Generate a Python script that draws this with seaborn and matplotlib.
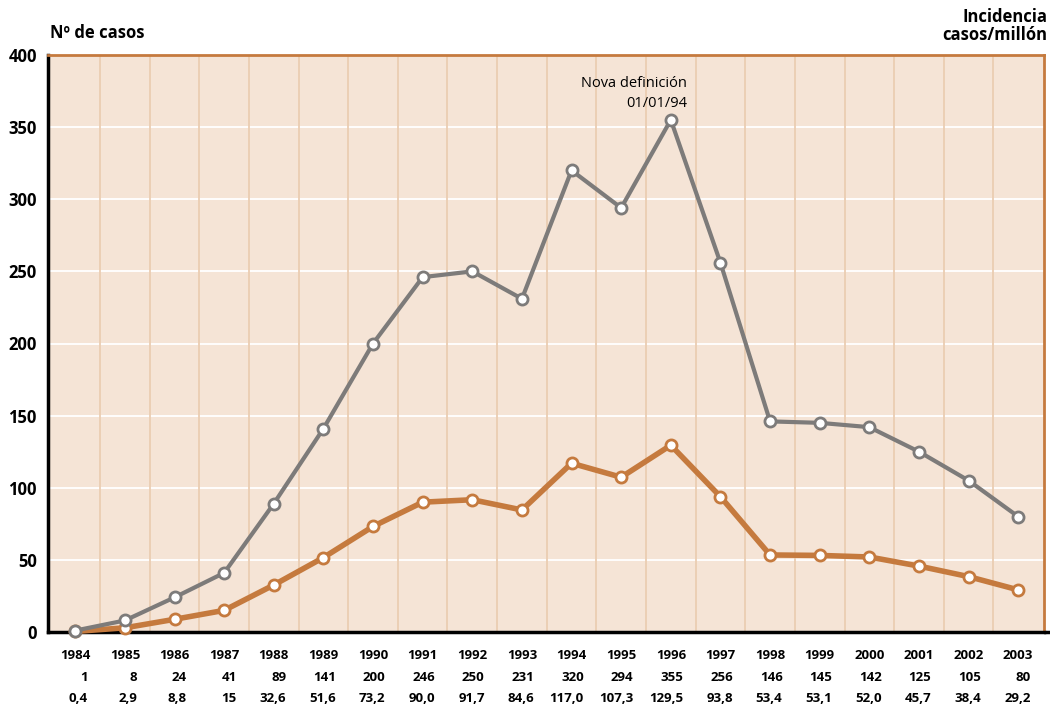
import pandas as pd
import matplotlib.pyplot as plt
import seaborn as sns

# Datos
anios = list(range(1984, 2004))
casos = [1, 8, 24, 41, 89, 141, 200, 246, 250, 231, 320, 294, 355, 256, 146, 145, 142, 125, 105, 80]
incidencia = [0.4, 2.9, 8.8, 15, 32.6, 51.6, 73.2, 90.0, 91.7, 84.6, 117.0, 107.3, 129.5, 93.8,
              53.4, 53.1, 52.0, 45.7, 38.4, 29.2]
incidencia_txt = ["0,4", "2,9", "8,8", "15", "32,6", "51,6", "73,2", "90,0", "91,7", "84,6",
                  "117,0", "107,3", "129,5", "93,8", "53,4", "53,1", "52,0", "45,7", "38,4", "29,2"]

df = pd.DataFrame({"anio": anios, "casos": casos, "incidencia": incidencia})

sns.set_style("white")
plt.rcParams["font.family"] = ["Open Sans", "DejaVu Sans"]
plt.rcParams["text.color"] = "black"
plt.rcParams["ytick.color"] = "black"

GRIS = "#7d7b7a"
NARANJA = "#c57a3e"
FONDO = "#f5e4d6"
REJILLA = "#ebcdb2"

fig = plt.figure(figsize=(10.5, 7.09), dpi=100)
ax = fig.add_axes([48 / 1050, 1 - 632 / 709, (1044 - 48) / 1050, (632 - 55) / 709])
ax.set_facecolor(FONDO)

# Rejilla
for y in range(50, 400, 50):
    ax.axhline(y, color="white", lw=1.3, zorder=1)
for x in range(1984, 2003):
    ax.axvline(x + 0.5, color=REJILLA, lw=1.3, zorder=1)

# Líneas
sns.lineplot(data=df, x="anio", y="casos", ax=ax, color=GRIS, lw=3, marker="o",
             markersize=8, markerfacecolor="white", markeredgecolor=GRIS,
             markeredgewidth=2, zorder=4, clip_on=False)
sns.lineplot(data=df, x="anio", y="incidencia", ax=ax, color=NARANJA, lw=4, marker="o",
             markersize=8, markerfacecolor="white", markeredgecolor=NARANJA,
             markeredgewidth=2, zorder=3, clip_on=False)

ax.set_xlim(1983.45, 2003.52)
ax.set_ylim(0, 400)
ax.set_xticks([])
ax.set_yticks(range(0, 401, 50))
ax.set_yticklabels([str(v) for v in range(0, 401, 50)], fontsize=12, fontweight="bold")
ax.tick_params(axis="y", length=0, pad=8, colors="black")
ax.set_xlabel("")
ax.set_ylabel("")

for lado in ["top", "right"]:
    ax.spines[lado].set_color(NARANJA)
    ax.spines[lado].set_linewidth(2)
for lado in ["left", "bottom"]:
    ax.spines[lado].set_color("black")
    ax.spines[lado].set_linewidth(2.5)
ax.plot([1, 1.01], [0, 0], transform=ax.transAxes, color="black", lw=2.5, clip_on=False)

# Anotación
ax.text(1996.33, 361, "Nova definición\n01/01/94", ha="right", va="bottom",
        fontsize=10.5, linespacing=1.45)

# Tabla inferior
fuente_tabla = dict(fontsize=9.5, fontweight="bold",
                    family=["Liberation Sans Narrow", "Open Sans", "DejaVu Sans"])
trans = ax.get_xaxis_transform()
for a, c, t in zip(anios, casos, incidencia_txt):
    ax.text(a, -0.04, str(a), ha="center", va="center", transform=trans, **fuente_tabla)
    ax.text(a + 0.25, -0.078, str(c), ha="right", va="center", transform=trans, **fuente_tabla)
    ax.text(a + 0.25, -0.116, t, ha="right", va="center", transform=trans, **fuente_tabla)

# Títulos de ejes
fig.text(50 / 1050, 1 - 33 / 709, "Nº de casos", ha="left", va="center",
         fontsize=12, fontweight="bold")
fig.text(1047 / 1050, 1 - 26 / 709, "Incidencia\ncasos/millón", ha="right", va="center",
         fontsize=12, fontweight="bold", linespacing=1.0)

plt.savefig("out.png", dpi=100)
plt.close()
